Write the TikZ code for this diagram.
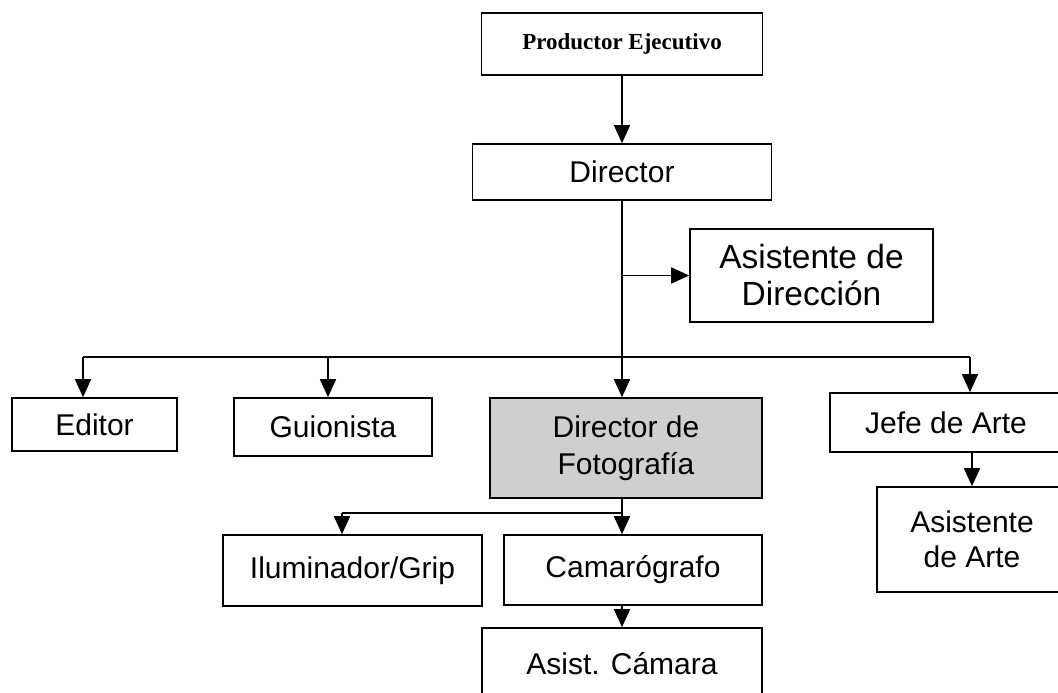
\documentclass[tikz,border=0pt]{standalone}
\usepackage{fontspec}
\setmainfont{Liberation Sans}
\newfontfamily\prodfont{Liberation Serif}
\usetikzlibrary{arrows.meta}
\definecolor{fotogray}{RGB}{207,207,207}

\begin{document}
\begin{tikzpicture}[x=1pt,y=-1pt,line width=1.6pt,
    >={Triangle[length=18pt,width=16pt]},
    box/.style={draw,rectangle,inner sep=0pt,align=center,
      font=\fontsize{30}{37}\selectfont},
    every edge/.style={draw,->}]
  \useasboundingbox (0,0) rectangle (1058,693);
  \clip (0,0) rectangle (1058,693);
  % boxes
  \node[box,minimum width=281pt,minimum height=62pt,
    font=\prodfont\bfseries\fontsize{23}{27}\selectfont] (prod) at (622,44) {Productor Ejecutivo};
  \node[box,minimum width=299pt,minimum height=56pt] (dir) at (622,172) {Director};
  \node[box,minimum width=243pt,minimum height=93pt,
    font=\fontsize{33.5}{37}\selectfont] (asis_dir) at (811.5,275.5) {Asistente de\\Dirección};
  \node[box,minimum width=165pt,minimum height=53pt] (editor) at (94.5,424.5) {Editor};
  \node[box,minimum width=198pt,minimum height=58pt] (guion) at (333,427) {Guionista};
  \node[box,fill=fotogray,minimum width=272pt,minimum height=100pt] (dir_foto) at (626,448) {Director de\\Fotografía};
  \node[box,minimum width=232pt,minimum height=59pt] (jefe) at (946,422.5) {Jefe de Arte};
  \node[box,minimum width=190pt,minimum height=105pt,
    font=\fontsize{30}{35}\selectfont] (asis_arte) at (972,539.5) {Asistente\\de Arte};
  \node[box,minimum width=259pt,minimum height=71pt] (ilum) at (352.5,570.5) {Iluminador/Grip};
  \node[box,minimum width=258pt,minimum height=70pt] (cam) at (633,570) {Camarógrafo};
  \node[box,minimum width=280pt,minimum height=72pt] (asis_cam) at (622,664) {Asist. Cámara};
  % bus lines
  \coordinate (bus_l) at (83,357);
  \coordinate (bus_g) at (328,357);
  \coordinate (bus_r) at (970,357);
  \coordinate (foto_c) at (622,513);
  \coordinate (foto_l) at (342,513);
  \draw (bus_l) -- (bus_r);
  \draw (foto_c |- dir_foto.south) -- (foto_c) -- (foto_l);
  % arrows
  \path (prod) edge (dir)
        (dir.south) edge (dir.south |- dir_foto.north)
        (dir.south |- asis_dir.west) edge (asis_dir.west)
        (bus_l) edge (bus_l |- editor.north)
        (bus_g) edge (bus_g |- guion.north)
        (bus_r) edge (bus_r |- jefe.north)
        (asis_arte.north |- jefe.south) edge (asis_arte.north)
        (foto_l) edge (foto_l |- ilum.north)
        (foto_c) edge (foto_c |- cam.north)
        (asis_cam.north |- cam.south) edge (asis_cam.north);
\end{tikzpicture}
\end{document}
